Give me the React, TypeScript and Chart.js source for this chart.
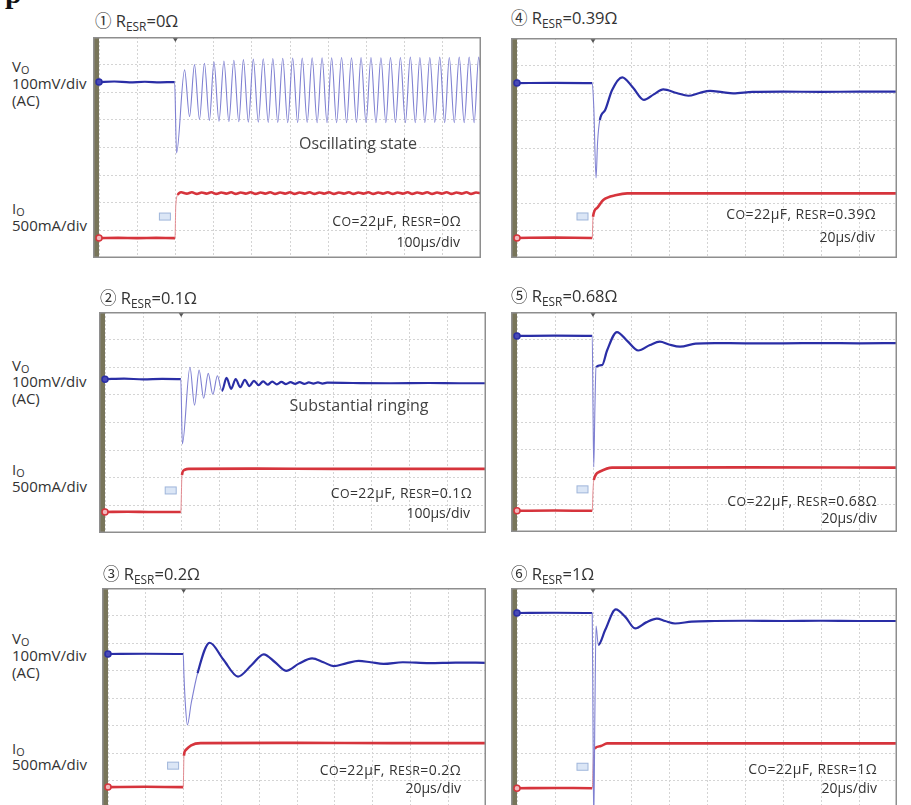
import React, { useEffect, useRef } from "react";
import { Chart, registerables } from "chart.js";

Chart.register(...registerables);

type Pt = [number, number];

// ---- waveform values, in screen divisions (x: 0..10 div, y: 0..8 div) ----
const vo1: Pt[] = [
  [0, 6.37], [0.4, 6.39], [0.8, 6.36], [1.2, 6.38], [1.6, 6.36], [1.98, 6.37], [2.03, 3.8],
  [2.24, 6.81], [2.37, 5.12], [2.5, 7.0], [2.63, 5.02], [2.76, 7.05], [2.89, 4.98], [3.01, 7.1],
  [3.14, 4.95], [3.27, 7.13], [3.4, 4.94], [3.53, 7.16], [3.66, 4.93], [3.78, 7.18], [3.91, 4.92],
  [4.04, 7.2], [4.17, 4.92], [4.3, 7.21], [4.43, 4.91], [4.55, 7.22], [4.68, 4.91], [4.81, 7.23],
  [4.94, 4.9], [5.07, 7.24], [5.2, 4.9], [5.32, 7.24], [5.45, 4.91], [5.58, 7.25], [5.71, 4.9],
  [5.84, 7.25], [5.97, 4.9], [6.09, 7.25], [6.22, 4.9], [6.35, 7.26], [6.48, 4.9], [6.61, 7.25],
  [6.74, 4.91], [6.86, 7.26], [6.99, 4.9], [7.12, 7.26], [7.25, 4.9], [7.38, 7.25], [7.51, 4.9],
  [7.63, 7.26], [7.76, 4.91], [7.89, 7.26], [8.02, 4.9], [8.15, 7.27], [8.28, 4.9], [8.4, 7.26],
  [8.53, 4.9], [8.66, 7.26], [8.79, 4.91], [8.92, 7.27], [9.05, 4.9], [9.17, 7.26], [9.3, 4.9],
  [9.43, 7.27], [9.56, 4.9], [9.69, 7.27], [9.82, 4.9], [9.94, 7.27], [10, 6.6],
];
const io1: Pt[] = [
  [0, 0.72], [0.5, 0.73], [1, 0.72], [1.5, 0.73], [1.99, 0.72], [2.01, 1.9], [2.06, 2.28], [2.15, 2.38],
  [2.3, 2.33], [2.43, 2.38], [2.56, 2.32], [2.69, 2.37], [2.81, 2.33], [2.94, 2.38], [3.07, 2.32],
  [3.2, 2.37], [3.33, 2.33], [3.46, 2.38], [3.58, 2.32], [3.71, 2.37], [3.84, 2.33], [3.97, 2.38],
  [4.1, 2.32], [4.23, 2.37], [4.35, 2.33], [4.48, 2.38], [4.61, 2.32], [4.74, 2.37], [4.87, 2.33],
  [5.0, 2.38], [5.12, 2.32], [5.25, 2.37], [5.38, 2.33], [5.51, 2.38], [5.64, 2.32], [5.77, 2.37],
  [5.89, 2.33], [6.02, 2.38], [6.15, 2.32], [6.28, 2.37], [6.41, 2.33], [6.54, 2.38], [6.66, 2.32],
  [6.79, 2.37], [6.92, 2.33], [7.05, 2.38], [7.18, 2.32], [7.31, 2.37], [7.43, 2.33], [7.56, 2.38],
  [7.69, 2.32], [7.82, 2.37], [7.95, 2.33], [8.08, 2.38], [8.2, 2.32], [8.33, 2.37], [8.46, 2.33],
  [8.59, 2.38], [8.72, 2.32], [8.85, 2.37], [8.97, 2.33], [9.1, 2.38], [9.23, 2.32], [9.36, 2.37],
  [9.49, 2.33], [9.62, 2.38], [9.74, 2.32], [9.87, 2.37], [10, 2.34],
];

const vo2: Pt[] = [
  [0, 5.57], [0.5, 5.59], [1, 5.56], [1.5, 5.58], [1.99, 5.57], [2.03, 3.22], [2.23, 6.0],
  [2.35, 4.63], [2.47, 5.9], [2.59, 4.88], [2.71, 5.78], [2.83, 5.02], [2.95, 5.69], [3.07, 5.14],
  [3.19, 5.62], [3.31, 5.22], [3.43, 5.57], [3.55, 5.28], [3.67, 5.54], [3.79, 5.32], [3.91, 5.51],
  [4.03, 5.35], [4.15, 5.49], [4.27, 5.37], [4.39, 5.48], [4.51, 5.38], [4.63, 5.47], [4.75, 5.39],
  [4.87, 5.46], [4.99, 5.4], [5.11, 5.46], [5.23, 5.4], [5.35, 5.45], [5.47, 5.41], [5.59, 5.45],
  [5.71, 5.41], [5.83, 5.44], [6.5, 5.43], [7.5, 5.42], [8.5, 5.43], [9.3, 5.42], [10, 5.42],
];
const io2: Pt[] = [
  [0, 0.76], [0.6, 0.77], [1.2, 0.76], [1.99, 0.76], [2.02, 2.1], [2.08, 2.28], [2.2, 2.32],
  [4, 2.33], [6, 2.32], [8, 2.32], [10, 2.32],
];

const vo3: Pt[] = [
  [0, 5.6], [1, 5.61], [1.99, 5.6], [2.01, 4.8], [2.05, 3.7], [2.1, 3.02], [2.2, 3.8], [2.37, 4.9],
  [2.69, 6.01], [3.05, 5.4], [3.44, 4.78], [3.8, 5.2], [4.12, 5.59], [4.42, 5.3], [4.71, 4.99],
  [5.05, 5.25], [5.4, 5.44], [5.7, 5.3], [5.97, 5.16], [6.3, 5.26], [6.63, 5.35], [6.95, 5.3],
  [7.29, 5.24], [7.8, 5.3], [8.5, 5.27], [9.2, 5.29], [10, 5.28],
];
const io3: Pt[] = [
  [0, 0.76], [1, 0.77], [1.99, 0.76], [2.01, 1.9], [2.05, 2.1], [2.2, 2.28], [2.45, 2.36],
  [5, 2.37], [7.5, 2.36], [10, 2.36],
];

const vo4: Pt[] = [
  [0, 6.36], [1, 6.37], [1.98, 6.36], [2.02, 5.5], [2.08, 2.91], [2.12, 4.2], [2.18, 5.02],
  [2.32, 5.38], [2.5, 6.1], [2.77, 6.57], [3.05, 6.2], [3.34, 5.75], [3.6, 5.95], [3.85, 6.13],
  [4.2, 6.0], [4.51, 5.9], [4.8, 6.0], [5.08, 6.08], [5.4, 6.03], [5.69, 5.99], [6.2, 6.04],
  [7, 6.05], [8, 6.04], [9, 6.05], [10, 6.05],
];
const io4: Pt[] = [
  [0, 0.73], [1, 0.74], [1.98, 0.73], [2.0, 1.5], [2.1, 1.81], [2.27, 2.11], [2.62, 2.29],
  [2.9, 2.35], [6, 2.35], [10, 2.35],
];

const vo5: Pt[] = [
  [0, 7.13], [1, 7.14], [1.98, 7.13], [2.0, 4.5], [2.02, 2.36], [2.05, 4.5], [2.08, 6.0],
  [2.24, 6.07], [2.37, 6.6], [2.63, 7.27], [2.9, 6.95], [3.19, 6.6], [3.5, 6.8], [3.76, 6.92],
  [4.0, 6.82], [4.29, 6.74], [4.7, 6.85], [5.2, 6.87], [6, 6.86], [7, 6.86], [8, 6.87],
  [9, 6.86], [10, 6.87],
];
const io5: Pt[] = [
  [0, 0.77], [1, 0.78], [1.98, 0.77], [2.0, 1.5], [2.02, 1.89], [2.17, 2.19], [2.5, 2.34],
  [6, 2.35], [10, 2.34],
];

const vo6: Pt[] = [
  [0, 7.09], [1, 7.1], [1.98, 7.09], [2.0, 3.0], [2.02, -0.5], [2.05, 3.5], [2.08, 6.62],
  [2.14, 5.93], [2.32, 6.47], [2.6, 7.22], [2.85, 6.95], [3.11, 6.53], [3.4, 6.75], [3.68, 6.89],
  [3.9, 6.8], [4.16, 6.71], [4.6, 6.78], [5.2, 6.8], [6, 6.81], [7, 6.8], [8, 6.81], [9, 6.8],
  [10, 6.8],
];
const io6: Pt[] = [
  [0, 0.72], [1, 0.73], [1.98, 0.72], [2.01, 1.8], [2.04, 2.16], [2.2, 2.25], [2.37, 2.35],
  [6, 2.35], [10, 2.35],
];

// ---- texts ----
const circled = ["①", "②", "③", "④", "⑤", "⑥"];
const esrValues = ["0", "0.1", "0.2", "0.39", "0.68", "1"];
const timeDivs = ["100μs/div", "100μs/div", "20μs/div", "20μs/div", "20μs/div", "20μs/div"];
const notes = ["Oscillating state", "Substantial ringing", "", "", "", ""];
const voTraces = [vo1, vo2, vo3, vo4, vo5, vo6];
const ioTraces = [io1, io2, io3, io4, io5, io6];
const TRIGGER_DIV = 2;

// ---- layout (page pixels) ----
type Layout = {
  frame: [number, number, number, number]; // left, top, width, height
  title: [number, number];
  note?: [number, number];
  ann1: [number, number];
  ann2: [number, number];
  left?: number[]; // centers of Vo, 100mV/div, (AC), Io, 500mA/div
};
const layouts: Layout[] = [
  { frame: [93, 37, 388, 221], title: [95, 20], note: [358, 143], ann1: [461, 221], ann2: [460, 242], left: [66, 83, 100, 208, 225] },
  { frame: [99, 312, 387, 221], title: [100, 297], note: [359, 405], ann1: [472, 493], ann2: [470, 513], left: [365, 381, 398, 469, 486] },
  { frame: [102, 588, 384, 220], title: [103, 573], ann1: [461, 770], ann2: [461, 788], left: [638, 655, 672, 748, 764] },
  { frame: [511, 38, 386, 220], title: [511, 17], ann1: [876, 214], ann2: [875, 237] },
  { frame: [511, 312, 386, 220], title: [511, 295], ann1: [877, 501], ann2: [877, 518] },
  { frame: [511, 588, 386, 220], title: [511, 573], ann1: [877, 769], ann2: [877, 788] },
];

const FONT = "'Open Sans', 'Noto Sans CJK JP', 'DejaVu Sans', sans-serif";
const OLIVE = "#78755a";
const BLUE = "#2a2ea6";
const BLUE_THIN = "#7f80d2";
const RED = "#d6343c";
const RED_THIN = "#e38a90";

const steep = (ctx: any) => {
  const dx = Math.abs(ctx.p1.x - ctx.p0.x);
  const dy = Math.abs(ctx.p1.y - ctx.p0.y);
  return dy > 3 * dx && dy > 6;
};

const scopePlugin = {
  id: "scope",
  beforeDraw(chart: any) {
    const { ctx, width, height, chartArea } = chart;
    ctx.save();
    ctx.fillStyle = "#ffffff";
    ctx.fillRect(0, 0, width, height);
    ctx.fillStyle = OLIVE;
    ctx.fillRect(0, 0, chartArea.left, height);
    ctx.restore();
  },
  afterDraw(chart: any) {
    const { ctx, width, height, chartArea, scales } = chart;
    const tx = scales.x.getPixelForValue(TRIGGER_DIV);
    ctx.save();
    // trigger mark
    ctx.fillStyle = "#555";
    ctx.beginPath();
    ctx.moveTo(tx - 2.5, chartArea.top + 1);
    ctx.lineTo(tx + 2.5, chartArea.top + 1);
    ctx.lineTo(tx, chartArea.top + 5);
    ctx.closePath();
    ctx.fill();
    // small channel box marker
    const low = chart.data.datasets[1].data[0].y;
    const by = scales.y.getPixelForValue(low + 0.78);
    ctx.fillStyle = "#dbe6f6";
    ctx.strokeStyle = "#9fb5da";
    ctx.lineWidth = 1;
    ctx.fillRect(tx - 16, by - 3.5, 11, 7);
    ctx.strokeRect(tx - 16, by - 3.5, 11, 7);
    // frame
    ctx.strokeStyle = "#8e8e8e";
    ctx.lineWidth = 1.5;
    ctx.strokeRect(0.75, 0.75, width - 1.5, height - 1.5);
    ctx.restore();
  },
};

function ScopePanel({ idx }: { idx: number }) {
  const ref = useRef<HTMLCanvasElement>(null);
  const [l, t, w, h] = layouts[idx].frame;
  useEffect(() => {
    const mk = (pts: Pt[]) => pts.map(([x, y]) => ({ x, y }));
    const chart = new Chart(ref.current as HTMLCanvasElement, {
      type: "line",
      data: {
        datasets: [
          {
            data: mk(voTraces[idx]),
            borderColor: BLUE,
            borderWidth: 2.2,
            cubicInterpolationMode: "monotone",
            pointRadius: (c: any) => (c.dataIndex === 0 ? 3 : 0),
            pointBackgroundColor: "#4a4ab8",
            pointBorderColor: BLUE,
            pointBorderWidth: 1.5,
            clip: { left: 6, top: 0, right: 0, bottom: 0 },
            segment: {
              borderColor: (c: any) => (steep(c) ? BLUE_THIN : undefined),
              borderWidth: (c: any) => (steep(c) ? 1.1 : undefined),
            },
          } as any,
          {
            data: mk(ioTraces[idx]),
            borderColor: RED,
            borderWidth: 2.6,
            cubicInterpolationMode: "monotone",
            pointRadius: (c: any) => (c.dataIndex === 0 ? 3 : 0),
            pointBackgroundColor: "#f2b8bc",
            pointBorderColor: RED,
            pointBorderWidth: 1.5,
            clip: { left: 6, top: 0, right: 0, bottom: 0 },
            segment: {
              borderColor: (c: any) => (steep(c) ? RED_THIN : undefined),
              borderWidth: (c: any) => (steep(c) ? 1 : undefined),
            },
          } as any,
        ],
      },
      options: {
        animation: false,
        responsive: false,
        events: [],
        layout: { autoPadding: false, padding: { left: 6, top: 0, right: 0, bottom: 0 } },
        plugins: { legend: { display: false }, tooltip: { enabled: false }, title: { display: false } },
        scales: {
          x: {
            type: "linear",
            min: 0,
            max: 10,
            ticks: { display: false, stepSize: 1 },
            grid: { color: "#d4d4d4", drawTicks: false, lineWidth: 1 },
            border: { display: false, dash: [2, 2] },
          },
          y: {
            type: "linear",
            min: 0,
            max: 8,
            ticks: { display: false, stepSize: 1 },
            grid: { color: "#d4d4d4", drawTicks: false, lineWidth: 1 },
            border: { display: false, dash: [2, 2] },
          },
        },
      },
      plugins: [scopePlugin],
    } as any);
    return () => chart.destroy();
  }, [idx]);
  return (
    <canvas
      ref={ref}
      width={w}
      height={h}
      style={{ position: "absolute", left: l, top: t, width: w, height: h }}
    />
  );
}

const sub = (s: string, size = "0.72em", va = "-0.28em") => (
  <span style={{ fontSize: size, verticalAlign: va }}>{s}</span>
);

function TextAt({ x, y, right, size, children, color = "#333", spacing = 0 }: any) {
  const lh = Math.round(size * 1.4);
  const style: React.CSSProperties = {
    position: "absolute",
    top: y - lh / 2,
    lineHeight: `${lh}px`,
    fontSize: size,
    fontFamily: FONT,
    color,
    whiteSpace: "nowrap",
    letterSpacing: spacing,
  };
  if (right) style.right = 911 - x;
  else style.left = x;
  return <div style={style}>{children}</div>;
}

export default function App() {
  return (
    <div
      style={{
        position: "fixed",
        left: 0,
        top: 0,
        width: 911,
        height: 805,
        overflow: "hidden",
        background: "#fff",
      }}
    >
      <div
        style={{
          position: "absolute",
          left: 5,
          top: -24,
          fontFamily: "'Liberation Serif', serif",
          fontWeight: "bold",
          fontSize: 30,
          color: "#111",
        }}
      >
        p
      </div>
      {layouts.map((ly, i) => (
        <React.Fragment key={i}>
          <ScopePanel idx={i} />
          <TextAt x={ly.title[0]} y={ly.title[1]} size={16.5}>
            {circled[i]} R{sub("ESR", "0.72em", "-0.32em")}={esrValues[i]}Ω
          </TextAt>
          {notes[i] && ly.note ? (
            <div
              style={{
                position: "absolute",
                left: ly.note[0] - 120,
                width: 240,
                textAlign: "center",
                top: ly.note[1] - 11,
                lineHeight: "22px",
                fontSize: 16,
                fontFamily: FONT,
                color: "#444",
              }}
            >
              {notes[i]}
            </div>
          ) : null}
          <TextAt x={ly.ann1[0]} y={ly.ann1[1]} right size={14} color="#333" spacing={0.4}>
            C{sub("O", "0.88em", "0")}=22μF, R{sub("ESR", "0.88em", "0")}={esrValues[i]}Ω
          </TextAt>
          <TextAt x={ly.ann2[0]} y={ly.ann2[1]} right size={14} color="#333">
            {timeDivs[i]}
          </TextAt>
          {ly.left ? (
            <>
              <TextAt x={12} y={ly.left[0]} size={15}>V{sub("O", "0.72em", "-0.15em")}</TextAt>
              <TextAt x={12} y={ly.left[1]} size={15}>100mV/div</TextAt>
              <TextAt x={12} y={ly.left[2]} size={15}>(AC)</TextAt>
              <TextAt x={12} y={ly.left[3]} size={15}>I{sub("O", "0.72em", "-0.15em")}</TextAt>
              <TextAt x={12} y={ly.left[4]} size={15}>500mA/div</TextAt>
            </>
          ) : null}
        </React.Fragment>
      ))}
    </div>
  );
}
